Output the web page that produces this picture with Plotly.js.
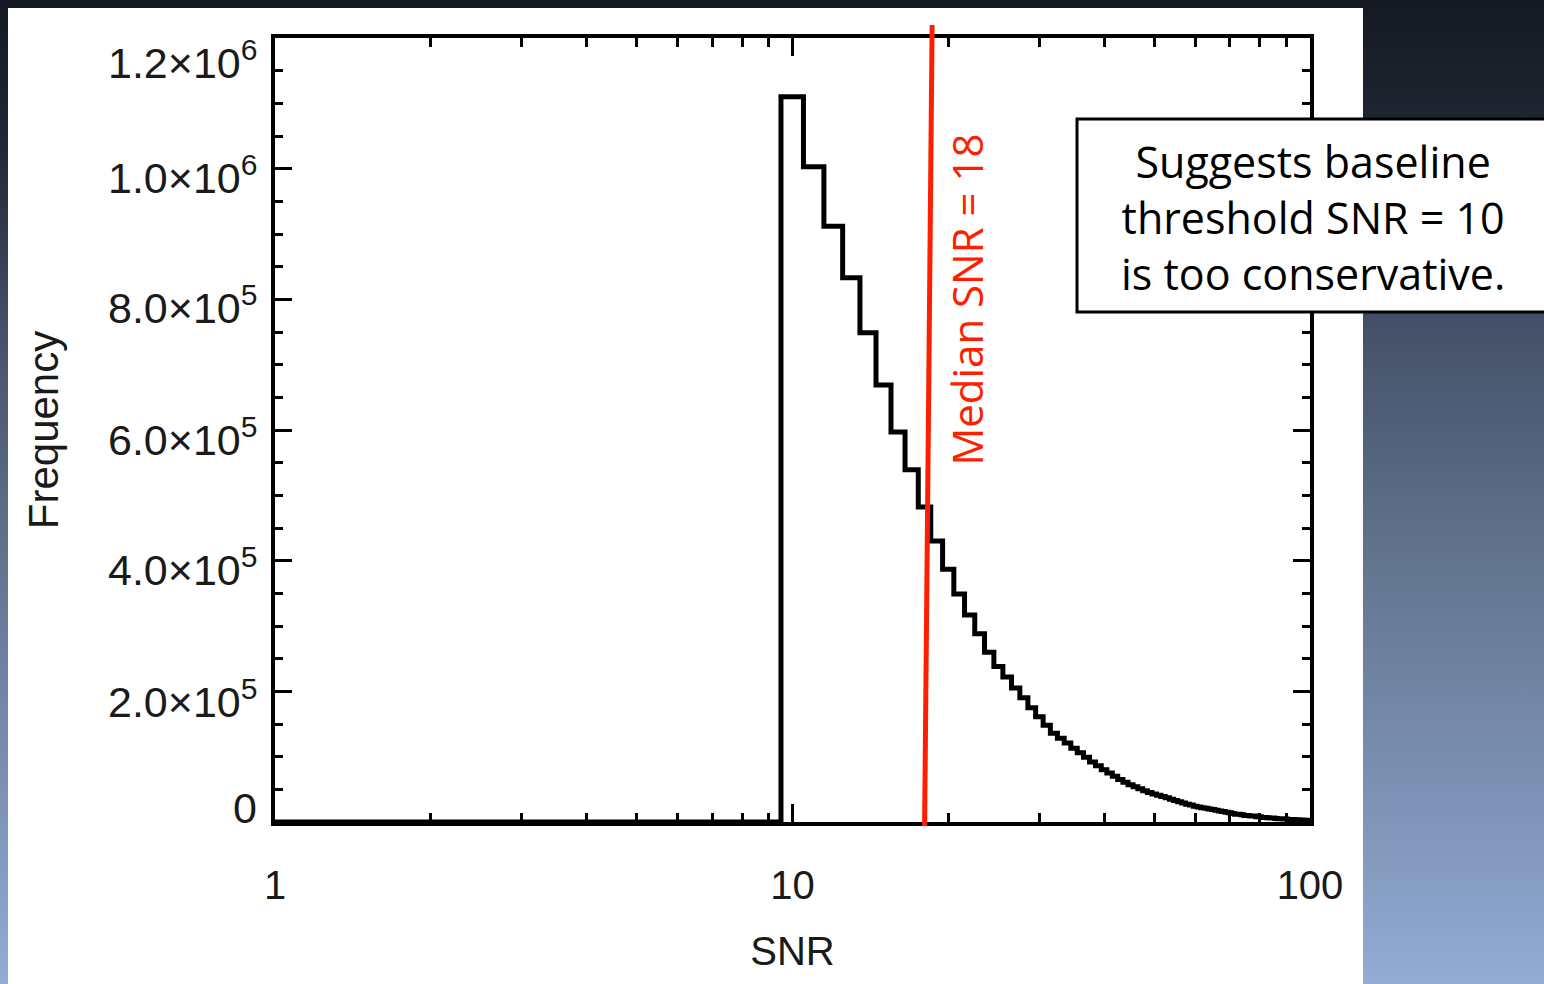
<!DOCTYPE html>
<html>
<head>
<meta charset="utf-8">
<script src="https://cdn.plot.ly/plotly-3.0.1.min.js"></script>
<style>
  html, body { margin: 0; padding: 0; }
  body {
    width: 1544px; height: 984px; overflow: hidden;
    background: linear-gradient(to bottom, #141922 0%, #222835 15%, #45526a 34%, #63748f 57%, #7c91b3 80%, #92acd4 100%);
  }
  #chart { width: 1544px; height: 984px; }
</style>
</head>
<body>
<div id="chart"></div>
<script>
// ---- data ----
const snrBins = [10,11,12,13,14,15,16,17,18,19,20,21,22,23,24,25,26,27,28,29,30,
  31,32,33,34,35,36,37,38,39,40,41,42,43,44,45,46,47,48,49,50,
  51,52,53,54,55,56,57,58,59,60,61,62,63,64,65,66,67,68,69,70,
  71,72,73,74,75,76,77,78,79,80,81,82,83,84,85,86,87,88,89,90,
  91,92,93,94,95,96,97,98,99,100];
const frequency = [1110000,1003000,912000,833000,749000,669000,597000,539000,482000,430000,387000,
  349000,317000,288000,260000,238000,222000,205000,190000,175000,161000,
  148000,136000,128000,121000,113000,106000,99000,92000,86000,80000,
  75000,70000,65000,61000,57000,54000,51000,48000,45000,43000,
  41000,39000,37000,35000,33000,31000,29000,27000,26000,24000,
  23000,22000,21000,20000,19000,18000,17000,16000,15000,14000,
  13000,12000,12000,11000,10000,10000,9000,9000,8000,8000,
  7000,7000,6500,6000,6000,5500,5000,5000,4500,4500,
  4000,4000,3800,3500,3300,3000,3000,2800,2600,2500];
const binWidth = 1;
const xStart = 1;
const medianSNR = 18;
const medianLabel = 'Median SNR = 18';
const noteText = ['Suggests baseline', 'threshold SNR = 10', 'is too conservative.'];
const xTickVals = [1, 10, 100];
const xTickText = ['1', '10', '100'];
const xMinorVals = [2,3,4,5,6,7,8,9,20,30,40,50,60,70,80,90];
const yTickVals = [0, 200000, 400000, 600000, 800000, 1000000, 1200000];
const yTickText = ['0', '2.0\u00d710<sup>5</sup>', '4.0\u00d710<sup>5</sup>', '6.0\u00d710<sup>5</sup>',
  '8.0\u00d710<sup>5</sup>', '1.0\u00d710<sup>6</sup>', '1.2\u00d710<sup>6</sup>'];
const yLabelShift = [14, -8, -6, -7, -6, -6, -22];

// ---- build step outline (edges of each bin) ----
const stepX = [xStart];
const stepY = [0];
snrBins.forEach((c, i) => { stepX.push(c - binWidth / 2); stepY.push(frequency[i]); });
stepX.push(snrBins[snrBins.length - 1] + binWidth / 2);
stepY.push(frequency[frequency.length - 1]);

const W = 1544, H = 984;
const L = 275, R = 1310, T = 38, B = 822;
const px2x = p => (p - L) / (R - L);
const px2y = p => (B - p) / (B - T);

const tickFont = { family: 'Liberation Sans, Arial, sans-serif', size: 40, color: '#1a1a1a' };
const yLabFont = { family: 'Liberation Sans, Arial, sans-serif', size: 43, color: '#1a1a1a' };

const annotations = yTickVals.map((v, i) => ({
  xref: 'paper', yref: 'y', x: 0, y: v, xanchor: 'right', yanchor: 'middle',
  xshift: -16, yshift: yLabelShift[i], showarrow: false, text: yTickText[i], font: yLabFont
}));
annotations.push({
  xref: 'x', yref: 'paper', x: Math.log10(medianSNR), y: px2y(300), xshift: 42,
  xanchor: 'center', yanchor: 'middle', textangle: -90, showarrow: false,
  text: medianLabel, font: { family: 'Open Sans, sans-serif', size: 42, color: 'rgb(255,30,0)' }
});
annotations.push({
  xref: 'paper', yref: 'paper', x: px2x(1313), y: px2y(217), xanchor: 'center', yanchor: 'middle',
  showarrow: false, align: 'center', text: noteText.join('<br>'),
  font: { family: 'Open Sans, sans-serif', size: 43, color: '#000' }
});

const layout = {
  width: W, height: H,
  margin: { l: L, r: W - R, t: T, b: H - B, pad: 0 },
  paper_bgcolor: 'rgba(0,0,0,0)',
  plot_bgcolor: '#ffffff',
  showlegend: false,
  xaxis: {
    type: 'log', range: [0, 2], autorange: false,
    tickmode: 'array', tickvals: xTickVals, ticktext: xTickText,
    ticks: 'inside', ticklen: 18, tickwidth: 3, tickcolor: '#000',
    minor: { tickmode: 'array', tickvals: xMinorVals, ticks: 'inside', ticklen: 9, tickwidth: 3, tickcolor: '#000', showgrid: false },
    showline: true, linecolor: '#000', linewidth: 4, mirror: 'ticks',
    showgrid: false, zeroline: false,
    tickfont: tickFont, ticklabelstandoff: 25,
    title: { text: 'SNR', font: tickFont, standoff: 32 },
    automargin: false
  },
  yaxis: {
    range: [0, 1200000], autorange: false,
    tickmode: 'array', tickvals: yTickVals, showticklabels: false,
    ticks: 'inside', ticklen: 17, tickwidth: 3, tickcolor: '#000',
    minor: { dtick: 50000, ticks: 'inside', ticklen: 8, tickwidth: 3, tickcolor: '#000', showgrid: false },
    showline: true, linecolor: '#000', linewidth: 4, mirror: 'ticks',
    showgrid: false, zeroline: false,
    title: { text: 'Frequency', font: { family: 'Liberation Sans, Arial, sans-serif', size: 42, color: '#1a1a1a' }, standoff: 200 },
    automargin: false
  },
  shapes: [
    { type: 'rect', xref: 'paper', yref: 'paper', layer: 'below',
      x0: px2x(8), x1: px2x(1363), y0: px2y(990), y1: px2y(8),
      fillcolor: '#ffffff', line: { width: 0 } },
    { type: 'line', xref: 'x', yref: 'paper', layer: 'above',
      x0: medianSNR, y0: px2y(826), x1: medianSNR * 1.034, y1: px2y(25),
      line: { color: 'rgb(255,30,0)', width: 5 } },
    { type: 'rect', xref: 'paper', yref: 'paper', layer: 'above',
      x0: px2x(1077), x1: px2x(1570), y0: px2y(312), y1: px2y(119),
      fillcolor: '#ffffff', line: { color: '#000', width: 3 } }
  ],
  annotations: annotations
};

const traces = [{
  type: 'scatter', mode: 'lines', x: stepX, y: stepY,
  line: { shape: 'hv', color: '#000', width: 5 },
  hoverinfo: 'skip'
}];

Plotly.newPlot('chart', traces, layout, { displayModeBar: false, staticPlot: true });
</script>
</body>
</html>
